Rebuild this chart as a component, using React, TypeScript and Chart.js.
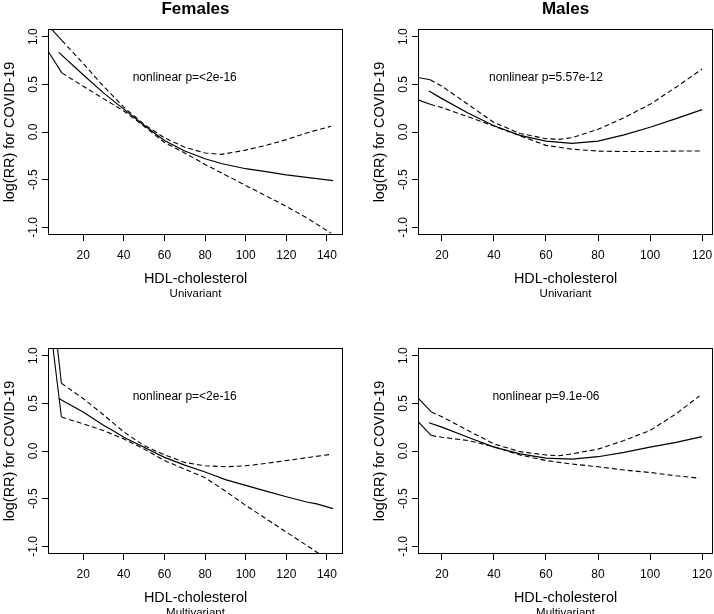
import React, { useEffect, useRef } from "react";
import { Chart, registerables } from "chart.js";

Chart.register(...registerables);

const FONT = '"Liberation Sans", Arial, Helvetica, sans-serif';

// ---- axis ticks ----
const femaleXTicks = [20, 40, 60, 80, 100, 120, 140];
const maleXTicks = [20, 40, 60, 80, 100, 120];
const yTickValues = [-1, -0.5, 0, 0.5, 1];
const yTickLabels = ["-1.0", "-0.5", "0.0", "0.5", "1.0"];

// ---- Females, Univariant ----
const fuFitX = [8, 20, 30, 40, 50, 60, 70, 80, 88, 100, 110, 120, 130, 143];
const fuFitY = [0.835, 0.6, 0.41, 0.24, 0.07, -0.09, -0.2, -0.28, -0.33, -0.385, -0.415, -0.45, -0.475, -0.51];
const fuUpX = [2.7, 9.5, 20, 30, 40, 50, 60, 70, 80, 88, 100, 110, 120, 130, 142];
const fuUpY = [1.12, 0.96, 0.72, 0.48, 0.26, 0.08, -0.06, -0.16, -0.22, -0.235, -0.19, -0.14, -0.08, -0.01, 0.06];
const fuLoX = [2.7, 9.5, 20, 30, 40, 50, 60, 70, 80, 90, 100, 110, 120, 130, 142];
const fuLoY = [0.85, 0.62, 0.48, 0.35, 0.22, 0.06, -0.11, -0.22, -0.34, -0.45, -0.56, -0.67, -0.78, -0.9, -1.06];

// ---- Males, Univariant ----
const muFitX = [15, 20, 30, 40, 50, 60, 70, 80, 90, 100, 110, 120];
const muFitY = [0.43, 0.35, 0.2, 0.065, -0.035, -0.095, -0.12, -0.095, -0.03, 0.05, 0.14, 0.235];
const muUpX = [10.8, 15.5, 20, 30, 40, 50, 60, 65, 70, 80, 90, 100, 110, 120];
const muUpY = [0.572, 0.547, 0.48, 0.29, 0.1, -0.015, -0.07, -0.077, -0.06, 0.028, 0.15, 0.29, 0.47, 0.66];
const muLoX = [10.8, 15.5, 20, 30, 40, 50, 60, 70, 80, 90, 100, 110, 120];
const muLoY = [0.337, 0.29, 0.256, 0.16, 0.063, -0.04, -0.14, -0.18, -0.2, -0.205, -0.205, -0.2, -0.2];

// ---- Females, Multivariant ----
const fmFitX = [8, 20, 30, 35, 40, 50, 60, 70, 80, 85, 90, 100, 110, 120, 130, 135, 143];
const fmFitY = [0.55, 0.41, 0.27, 0.21, 0.145, 0.04, -0.067, -0.148, -0.22, -0.26, -0.3, -0.36, -0.42, -0.48, -0.535, -0.555, -0.605];
const fmUpX = [2.7, 9.3, 20, 30, 40, 50, 60, 70, 80, 90, 100, 110, 120, 130, 142];
const fmUpY = [1.97, 0.71, 0.55, 0.38, 0.2, 0.056, -0.04, -0.12, -0.155, -0.165, -0.155, -0.13, -0.1, -0.07, -0.035];
const fmLoX = [2.7, 9.3, 20, 30, 40, 50, 60, 70, 80, 90, 100, 110, 120, 130, 142];
const fmLoY = [1.51, 0.356, 0.285, 0.215, 0.127, 0.02, -0.1, -0.19, -0.28, -0.42, -0.57, -0.71, -0.85, -0.99, -1.16];

// ---- Males, Multivariant ----
const mmFitX = [15, 20, 30, 40, 50, 60, 70, 80, 90, 100, 110, 120];
const mmFitY = [0.296, 0.25, 0.144, 0.04, -0.03, -0.074, -0.085, -0.06, -0.014, 0.04, 0.09, 0.15];
const mmUpX = [10.8, 15.9, 20, 30, 40, 50, 60, 65, 70, 80, 90, 100, 110, 119];
const mmUpY = [0.556, 0.41, 0.36, 0.215, 0.074, -0.007, -0.042, -0.05, -0.03, 0.02, 0.11, 0.215, 0.39, 0.577];
const mmLoX = [10.8, 15.9, 20, 30, 40, 50, 60, 70, 80, 90, 100, 110, 119];
const mmLoY = [0.31, 0.162, 0.144, 0.11, 0.046, -0.042, -0.1, -0.137, -0.165, -0.2, -0.225, -0.26, -0.285];

// ---- texts ----
const panelTitles = ["Females", "Males", "", ""];
const subLabels = ["Univariant", "Univariant", "Multivariant", "Multivariant"];
const pLabels = ["nonlinear p=<2e-16", "nonlinear p=5.57e-12", "nonlinear p=<2e-16", "nonlinear p=9.1e-06"];
const pLabelX = [70, 60, 70, 60];
const pLabelY = [0.58, 0.58, 0.58, 0.58];
const xTitle = "HDL-cholesterol";
const yTitle = "log(RR) for COVID-19";

const zip = (xs: number[], ys: number[]) => xs.map((x, i) => ({ x, y: ys[i] }));

type PanelDef = {
  left: number;
  top: number;
  width: number;
  height: number;
  yAxisWidth: number;
  padRight: number;
  xMin: number;
  xMax: number;
  xTicks: number[];
  fit: { x: number; y: number }[];
  up: { x: number; y: number }[];
  lo: { x: number; y: number }[];
  idx: number;
};

const panels: PanelDef[] = [
  { left: 0, top: 0, width: 357, height: 307, yAxisWidth: 48, padRight: 14, xMin: 2.7, xMax: 147.9, xTicks: femaleXTicks, fit: zip(fuFitX, fuFitY), up: zip(fuUpX, fuUpY), lo: zip(fuLoX, fuLoY), idx: 0 },
  { left: 357, top: 0, width: 357, height: 307, yAxisWidth: 61, padRight: 1, xMin: 10.8, xMax: 124.2, xTicks: maleXTicks, fit: zip(muFitX, muFitY), up: zip(muUpX, muUpY), lo: zip(muLoX, muLoY), idx: 1 },
  { left: 0, top: 319, width: 357, height: 295, yAxisWidth: 48, padRight: 14, xMin: 2.7, xMax: 147.9, xTicks: femaleXTicks, fit: zip(fmFitX, fmFitY), up: zip(fmUpX, fmUpY), lo: zip(fmLoX, fmLoY), idx: 2 },
  { left: 357, top: 319, width: 357, height: 295, yAxisWidth: 61, padRight: 1, xMin: 10.8, xMax: 124.2, xTicks: maleXTicks, fit: zip(mmFitX, mmFitY), up: zip(mmUpX, mmUpY), lo: zip(mmLoX, mmLoY), idx: 3 },
];

const PLOT_TOP = 29;
const PLOT_BOTTOM = 235;

function makeChart(canvas: HTMLCanvasElement, p: PanelDef) {
  const dash = [5, 3];
  const ciSegment = {
    borderDash: (ctx: any) => (ctx.p0DataIndex === 0 ? [] : dash),
  };
  const textPlugin = {
    id: "rtext",
    afterDraw(chart: any) {
      const ctx = chart.ctx as CanvasRenderingContext2D;
      const a = chart.chartArea;
      const xs = chart.scales.x;
      const ys = chart.scales.y;
      ctx.save();
      // box
      ctx.strokeStyle = "#000";
      ctx.lineWidth = 1;
      const l = Math.round(a.left) + 0.5;
      const t = Math.round(a.top) + 0.5;
      const r = Math.round(a.right) - 0.5;
      const b = Math.round(a.bottom) - 0.5;
      ctx.strokeRect(l, t, r - l, b - t);
      ctx.fillStyle = "#000";
      const cx = (a.left + a.right) / 2;
      // title
      const title = panelTitles[p.idx];
      if (title) {
        ctx.font = `bold 17px ${FONT}`;
        ctx.textAlign = "center";
        ctx.textBaseline = "alphabetic";
        ctx.fillText(title, cx, a.top - 15.5);
      }
      // x tick labels
      ctx.font = `12px ${FONT}`;
      ctx.textAlign = "center";
      ctx.textBaseline = "alphabetic";
      p.xTicks.forEach((v) => {
        ctx.fillText(String(v), xs.getPixelForValue(v), a.bottom + 24);
      });
      // x title + sub label
      ctx.font = `14.4px ${FONT}`;
      ctx.fillText(xTitle, cx, a.bottom + 48);
      ctx.font = `11.5px ${FONT}`;
      ctx.fillText(subLabels[p.idx], cx, a.bottom + 61.5);
      // y tick labels (rotated)
      ctx.font = `12px ${FONT}`;
      yTickValues.forEach((v, i) => {
        ctx.save();
        ctx.translate(a.left - 11, ys.getPixelForValue(v));
        ctx.rotate(-Math.PI / 2);
        ctx.textAlign = "center";
        ctx.fillText(yTickLabels[i], 0, 0);
        ctx.restore();
      });
      // y title
      ctx.save();
      ctx.font = `14.4px ${FONT}`;
      ctx.translate(a.left - 34.5, (a.top + a.bottom) / 2);
      ctx.rotate(-Math.PI / 2);
      ctx.textAlign = "center";
      ctx.fillText(yTitle, 0, 0);
      ctx.restore();
      // annotation
      ctx.font = `12px ${FONT}`;
      ctx.textAlign = "center";
      ctx.fillText(
        pLabels[p.idx],
        xs.getPixelForValue(pLabelX[p.idx]),
        ys.getPixelForValue(pLabelY[p.idx]) + 4.3
      );
      ctx.restore();
    },
  };

  return new Chart(canvas, {
    type: "line",
    data: {
      datasets: [
        { data: p.fit, borderColor: "#000", borderWidth: 1.2, pointRadius: 0, tension: 0, fill: false },
        { data: p.up, borderColor: "#000", borderWidth: 1.1, pointRadius: 0, tension: 0, fill: false, borderDash: dash, segment: ciSegment },
        { data: p.lo, borderColor: "#000", borderWidth: 1.1, pointRadius: 0, tension: 0, fill: false, borderDash: dash, segment: ciSegment },
      ],
    },
    options: {
      animation: false,
      responsive: false,
      maintainAspectRatio: false,
      devicePixelRatio: 1,
      events: [],
      layout: { padding: { left: 0, top: PLOT_TOP, right: p.padRight, bottom: 0 } },
      plugins: { legend: { display: false }, tooltip: { enabled: false }, title: { display: false } },
      scales: {
        x: {
          type: "linear",
          min: p.xMin,
          max: p.xMax,
          afterBuildTicks: (s: any) => {
            s.ticks = p.xTicks.map((v) => ({ value: v }));
          },
          afterFit: (s: any) => {
            s.height = p.height - PLOT_BOTTOM;
          },
          ticks: { display: false },
          grid: { drawOnChartArea: false, drawTicks: true, tickLength: 6, color: "#000", tickColor: "#000", lineWidth: 1 },
          border: { display: false },
        },
        y: {
          type: "linear",
          min: -1.08,
          max: 1.08,
          afterBuildTicks: (s: any) => {
            s.ticks = yTickValues.map((v) => ({ value: v }));
          },
          afterFit: (s: any) => {
            s.width = p.yAxisWidth;
          },
          ticks: { display: false },
          grid: { drawOnChartArea: false, drawTicks: true, tickLength: 6, color: "#000", tickColor: "#000", lineWidth: 1 },
          border: { display: false },
        },
      },
    },
    plugins: [textPlugin],
  } as any);
}

function Panel({ p }: { p: PanelDef }) {
  const ref = useRef<HTMLCanvasElement | null>(null);
  useEffect(() => {
    if (!ref.current) return;
    const chart = makeChart(ref.current, p);
    return () => chart.destroy();
  }, [p]);
  return (
    <canvas
      ref={ref}
      width={p.width}
      height={p.height}
      style={{ position: "absolute", left: p.left, top: p.top, width: p.width, height: p.height }}
    />
  );
}

export default function App() {
  return (
    <div style={{ position: "fixed", left: 0, top: 0, width: 714, height: 614, background: "#fff", overflow: "hidden" }}>
      {panels.map((p, i) => (
        <Panel key={i} p={p} />
      ))}
    </div>
  );
}
